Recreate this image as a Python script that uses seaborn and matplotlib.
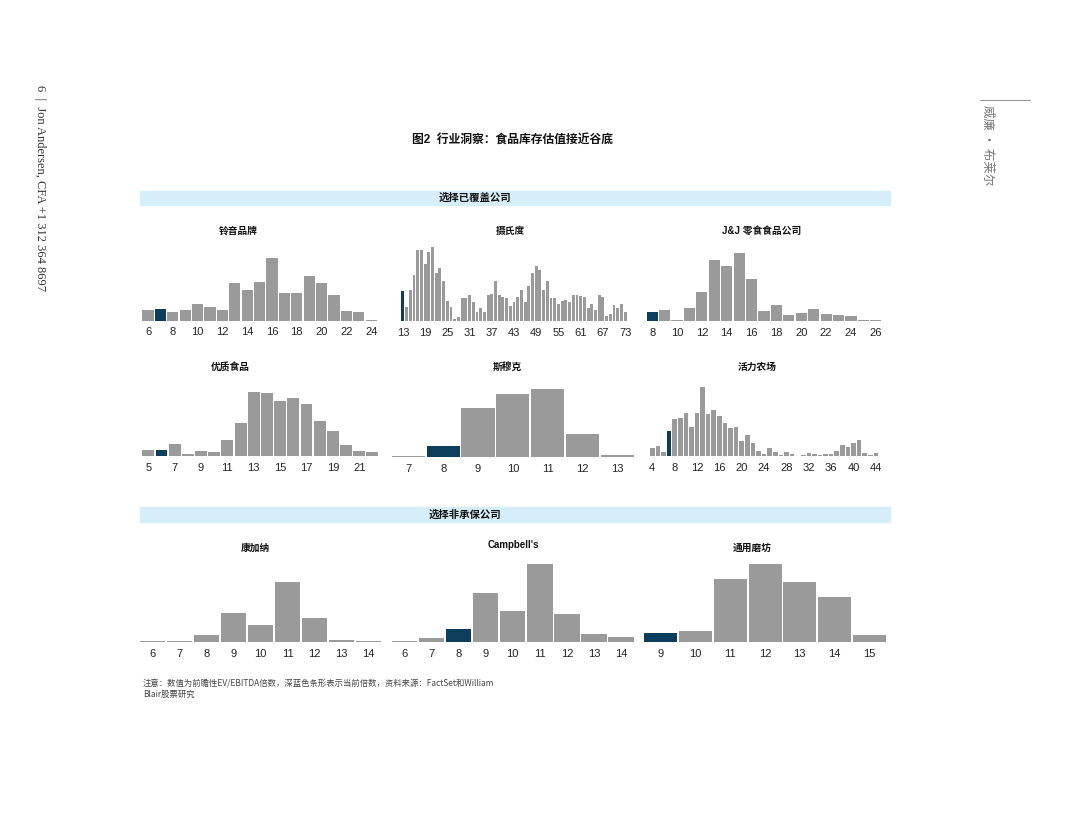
import numpy as np
import pandas as pd
import matplotlib
matplotlib.use("Agg")
import matplotlib.pyplot as plt
import seaborn as sns

sns.set_style("white")
plt.rcParams['font.family'] = ['Liberation Sans', 'Noto Sans CJK SC', 'DejaVu Sans']

GRAY = "#9a9a9a"
DARK = "#0b3d5c"
BAND = "#d6eefa"

# ---- 数据：每个整数倍数的分布高度，以及当前倍数 ----
lingyin_start = 6
lingyin = [33, 35, 27, 33, 50, 42, 32, 112, 92, 117, 188, 82, 82, 133, 112, 77, 30, 27, 3]
lingyin_cur = 7

sheshi_start = 13
sheshi = [90, 41, 93, 138, 211, 211, 171, 206, 220, 143, 158, 118, 58, 41, 6, 11,
          67, 67, 76, 55, 26, 37, 25, 77, 81, 120, 78, 71, 68, 45, 55, 71, 93, 55,
          103, 143, 165, 151, 93, 120, 68, 68, 50, 60, 63, 55, 78, 78, 73, 70, 38,
          51, 33, 78, 71, 15, 20, 47, 38, 50, 26]
sheshi_cur = 13

jj_start = 8
jj = [27, 32, 3, 37, 85, 183, 165, 202, 125, 28, 47, 18, 22, 34, 21, 16, 14, 3, 3]
jj_cur = 8

youzhi_start = 5
youzhi = [17, 18, 35, 6, 13, 12, 48, 99, 191, 187, 165, 172, 155, 105, 74, 31, 15, 11]
youzhi_cur = 6

simuke_start = 7
simuke = [3, 34, 149, 191, 204, 69, 6]
simuke_cur = 8

huoli_start = 4
huoli = [22, 28, 10, 75, 109, 114, 127, 85, 127, 205, 124, 136, 120, 99, 82, 85,
         45, 61, 39, 15, 4, 23, 10, 3, 10, 4, 0, 3, 7, 6, 3, 6, 4, 15, 32, 26, 39,
         48, 7, 3, 7]
huoli_cur = 7

kangjiana_start = 6
kangjiana = [4, 3, 22, 89, 53, 181, 72, 7, 4]
kangjiana_cur = None

campbell_start = 6
campbell = [3, 12, 39, 147, 94, 236, 85, 26, 17]
campbell_cur = 8

tongyong_start = 9
tongyong = [28, 33, 189, 235, 181, 135, 22]
tongyong_cur = 9

W, H = 1080, 834
fig = plt.figure(figsize=(W / 100, H / 100), dpi=100)


def draw(box, title, title_xy, start, vals, cur, ticks, bw):
    x0, x1, base, lo, hi = box
    ax = fig.add_axes([x0 / W, 1 - base / H, (x1 - x0) / W, 85 / H])
    xs = np.arange(start, start + len(vals))
    df = pd.DataFrame({"倍数": xs, "频数": vals,
                       "类型": np.where(xs == cur, "当前", "历史")})
    sns.barplot(data=df, x="倍数", y="频数", hue="类型", hue_order=["历史", "当前"],
                palette={"历史": GRAY, "当前": DARK}, native_scale=True, width=bw,
                dodge=False, saturation=1, linewidth=0, legend=False, ax=ax)
    ax.set_xlim(lo, hi)
    ax.set_ylim(0, 255)
    ax.set_xticks(ticks)
    ax.set_xticklabels([str(t) for t in ticks])
    ax.set_yticks([])
    ax.set_xlabel("")
    ax.set_ylabel("")
    ax.tick_params(axis="x", length=0, pad=5, labelsize=8, labelcolor="#222222")
    sns.despine(ax=ax, left=True, bottom=True)
    ax.patch.set_alpha(0)
    fig.text(title_xy[0] / W, 1 - title_xy[1] / H, title, ha="center", va="center",
             fontsize=7, fontweight="bold", color="#111111")


# 第一行
draw((141.8, 377.4, 320.5, 5.5, 24.5), "铃音品牌", (238, 231),
     lingyin_start, lingyin, lingyin_cur, list(range(6, 25, 2)), 0.9)
draw((401, 627, 320.7, 12.5, 73.5), "摄氏度", (510, 231),
     sheshi_start, sheshi, sheshi_cur, list(range(13, 74, 6)), 0.78)
draw((646, 882, 320.7, 7.5, 26.5), "J&J 零食食品公司", (762, 231),
     jj_start, jj, jj_cur, list(range(8, 27, 2)), 0.9)
# 第二行
draw((141.7, 379, 455.7, 4.5, 22.5), "优质食品", (230, 367),
     youzhi_start, youzhi, youzhi_cur, list(range(5, 22, 2)), 0.9)
draw((391, 634.6, 457.3, 6.5, 13.5), "斯穆克", (507, 367),
     simuke_start, simuke, simuke_cur, list(range(7, 14)), 0.95)
draw((649.5, 878.7, 455.7, 3.5, 44.5), "活力农场", (757, 367),
     huoli_start, huoli, huoli_cur, list(range(4, 45, 4)), 0.82)
# 第三行
draw((139.2, 382.2, 642.3, 5.5, 14.5), "康加纳", (255, 548),
     kangjiana_start, kangjiana, kangjiana_cur, list(range(6, 15)), 0.94)
draw((390.8, 634.6, 642.3, 5.5, 14.5), "Campbell's", (513, 545),
     campbell_start, campbell, campbell_cur, list(range(6, 15)), 0.94)
draw((643.6, 886.6, 642.3, 8.5, 15.5), "通用磨坊", (752, 548),
     tongyong_start, tongyong, tongyong_cur, list(range(9, 16)), 0.95)

# 标题与分组条
fig.text(512 / W, 1 - 141 / H, "图2  行业洞察：食品库存估值接近谷底", ha="center", va="center",
         fontsize=8.5, fontweight="bold", color="#111111")
for y0, y1, label, cx in [(191, 205, "选择已覆盖公司", 475), (507, 522, "选择非承保公司", 465)]:
    fig.add_artist(plt.Rectangle((140 / W, 1 - y1 / H), 750 / W, (y1 - y0) / H,
                                 transform=fig.transFigure, color=BAND, zorder=0))
    fig.text(cx / W, 1 - (y0 + y1) / 2 / H, label, ha="center", va="center",
             fontsize=7.5, fontweight="bold", color="#111111")

# 注释
fig.text(143 / W, 1 - 683 / H,
         "注意：数值为前瞻性EV/EBITDA倍数，深蓝色条形表示当前倍数，资料来源：FactSet和William",
         ha="left", va="center", fontsize=6, color="#444444",
         family=['Noto Sans CJK SC', 'DejaVu Sans'])
fig.text(143 / W, 1 - 694 / H, "Blair股票研究", ha="left", va="center", fontsize=6,
         color="#444444", family=['Noto Sans CJK SC', 'DejaVu Sans'])

# 页边文字
fig.text(40 / W, 1 - 85 / H, "6  |  Jon Andersen, CFA +1 312 364 8697", rotation=-90,
         ha="center", va="top", fontsize=9, color="#333333",
         family=['Liberation Serif', 'DejaVu Serif'])
fig.text(988 / W, 1 - 105 / H, "威廉 · 布莱尔", rotation=-90, ha="center", va="top",
         fontsize=9, color="#777777", family=['Noto Sans CJK SC', 'DejaVu Sans'])
fig.add_artist(plt.Line2D([980 / W, 1030 / W], [1 - 100 / H, 1 - 100 / H],
                          transform=fig.transFigure, color="#999999", lw=0.8))

fig.savefig("out.png", dpi=100, facecolor="white")
